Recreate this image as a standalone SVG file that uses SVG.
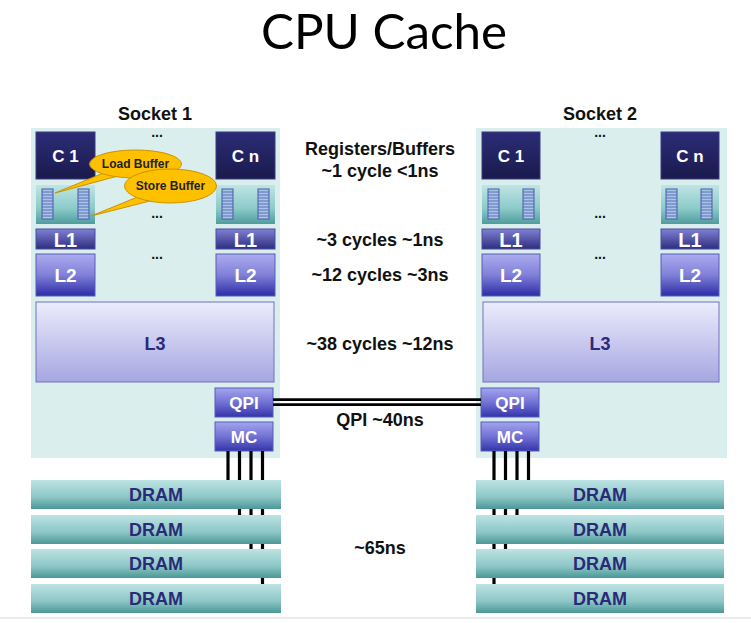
<svg xmlns="http://www.w3.org/2000/svg" xmlns:xlink="http://www.w3.org/1999/xlink" width="751" height="623" viewBox="0 0 751 623">
<defs>
<linearGradient id="gC" x1="0" y1="0" x2="0" y2="1"><stop offset="0" stop-color="#2c2c78"/><stop offset="1" stop-color="#1a1a4c"/></linearGradient>
<linearGradient id="gBuf" x1="0" y1="0" x2="0" y2="1"><stop offset="0" stop-color="#bfe5e5"/><stop offset="0.6" stop-color="#8ccaca"/><stop offset="1" stop-color="#4f9c9c"/></linearGradient>
<linearGradient id="gL1" x1="0" y1="0" x2="0" y2="1"><stop offset="0" stop-color="#8080d4"/><stop offset="1" stop-color="#2e2e7e"/></linearGradient>
<linearGradient id="gL2" x1="0" y1="0" x2="0" y2="1"><stop offset="0" stop-color="#acacf0"/><stop offset="0.5" stop-color="#8080d8"/><stop offset="1" stop-color="#2c2ca8"/></linearGradient>
<linearGradient id="gL3" x1="0" y1="0" x2="0" y2="1"><stop offset="0" stop-color="#ececfc"/><stop offset="1" stop-color="#a6a6e2"/></linearGradient>
<linearGradient id="gQ" x1="0" y1="0" x2="0" y2="1"><stop offset="0" stop-color="#a4a4ee"/><stop offset="0.5" stop-color="#7272d4"/><stop offset="1" stop-color="#3434ac"/></linearGradient>
<linearGradient id="gD" x1="0" y1="0" x2="0" y2="1"><stop offset="0" stop-color="#bde3e3"/><stop offset="0.6" stop-color="#8cc6c6"/><stop offset="1" stop-color="#4b9797"/></linearGradient>
<g id="stripe">
<rect x="0" y="0" width="11" height="30" fill="#a8c4e6" stroke="#4a5aa8" stroke-width="1"/>
<path d="M0 3H11M0 6H11M0 9H11M0 12H11M0 15H11M0 18H11M0 21H11M0 24H11M0 27H11" stroke="#4a5aa8" stroke-width="0.8"/>
</g>
</defs>
<style>
.bg{fill:#dbeeee}
.c{fill:url(#gC);stroke:#3a3a80;stroke-width:1}
.buf{fill:url(#gBuf)}
.l1{fill:url(#gL1);stroke:#4a4aa0;stroke-width:1}
.l2{fill:url(#gL2);stroke:#5a5ab8;stroke-width:1}
.l3{fill:url(#gL3);stroke:#7070c0;stroke-width:1}
.q{fill:url(#gQ);stroke:#5a5ab8;stroke-width:1}
.dram{fill:url(#gD)}
.wt{font-family:"Liberation Sans",Arial,sans-serif;font-weight:bold;fill:#ffffff;text-anchor:middle}
.lb{font-family:"Liberation Sans",Arial,sans-serif;font-weight:bold;fill:#111111;text-anchor:middle;font-size:18px}
.dt{font-family:"Liberation Sans",Arial,sans-serif;font-weight:bold;fill:#2a2a78;text-anchor:middle;font-size:18px}
.dots{font-family:"Liberation Sans",Arial,sans-serif;font-weight:bold;fill:#111111;text-anchor:middle;font-size:14px}
.wire{stroke:#000000;stroke-width:3.2}
.call{fill:#ffc000;stroke:#c89400;stroke-width:1}
.ct{font-family:"Liberation Sans",Arial,sans-serif;font-weight:bold;fill:#222222;text-anchor:middle;font-size:12px}
</style>
<rect width="751" height="623" fill="#ffffff"/>
<line x1="0" y1="618" x2="751" y2="618" stroke="#d8d8d8" stroke-width="1"/>
<text x="384" y="48.5" font-family="Lato,'Open Sans',sans-serif" font-size="48" fill="#000000" text-anchor="middle" textLength="246" lengthAdjust="spacingAndGlyphs">CPU Cache</text>

<g id="socket1">
<rect class="bg" x="31" y="128" width="249" height="330"/>
<text class="lb" x="155" y="120" font-size="16">Socket 1</text>
<text class="dots" x="157" y="137">...</text>
<text class="dots" x="157" y="218">...</text>
<text class="dots" x="157" y="259">...</text>
</g>
<g id="socket2">
<rect class="bg" x="476" y="128" width="251" height="330"/>
<text class="lb" x="600" y="120" font-size="16">Socket 2</text>
<text class="dots" x="600" y="137">...</text>
<text class="dots" x="600" y="218">...</text>
<text class="dots" x="600" y="259">...</text>
</g>

<g id="s1-c1"><rect class="c" x="36" y="132" width="59" height="47"/><text class="wt" x="65.5" y="162" font-size="17">C 1</text></g>
<g id="s1-cn"><rect class="c" x="216" y="132" width="59" height="47"/><text class="wt" x="245.5" y="162" font-size="17">C n</text></g>
<g id="s1-buf1"><rect class="buf" x="36" y="185" width="59" height="39"/><use xlink:href="#stripe" x="42" y="189"/><use xlink:href="#stripe" x="78" y="189"/></g>
<g id="s1-bufn"><rect class="buf" x="216" y="185" width="59" height="39"/><use xlink:href="#stripe" x="222" y="189"/><use xlink:href="#stripe" x="258" y="189"/></g>
<g id="s1-l1a"><rect class="l1" x="36" y="229" width="59" height="20"/><text class="wt" x="65.5" y="246.5" font-size="20">L1</text></g>
<g id="s1-l1n"><rect class="l1" x="216" y="229" width="59" height="20"/><text class="wt" x="245.5" y="246.5" font-size="20">L1</text></g>
<g id="s1-l2a"><rect class="l2" x="36" y="254" width="59" height="42"/><text class="wt" x="65.5" y="282" font-size="19">L2</text></g>
<g id="s1-l2n"><rect class="l2" x="216" y="254" width="59" height="42"/><text class="wt" x="245.5" y="282" font-size="19">L2</text></g>
<g id="s1-l3"><rect class="l3" x="36" y="302" width="238" height="80"/><text class="dt" x="155" y="350">L3</text></g>
<g id="s1-qpi"><rect class="q" x="215" y="388" width="58" height="29"/><text class="wt" x="244" y="409" font-size="17">QPI</text></g>
<g id="s1-mc"><rect class="q" x="215" y="422" width="58" height="29"/><text class="wt" x="244" y="443" font-size="17">MC</text></g>

<g id="s2-c1"><rect class="c" x="482" y="132" width="58" height="47"/><text class="wt" x="511" y="162" font-size="17">C 1</text></g>
<g id="s2-cn"><rect class="c" x="661" y="132" width="58" height="47"/><text class="wt" x="690" y="162" font-size="17">C n</text></g>
<g id="s2-buf1"><rect class="buf" x="482" y="185" width="58" height="39"/><use xlink:href="#stripe" x="488" y="189"/><use xlink:href="#stripe" x="523" y="189"/></g>
<g id="s2-bufn"><rect class="buf" x="661" y="185" width="58" height="39"/><use xlink:href="#stripe" x="666" y="189"/><use xlink:href="#stripe" x="701" y="189"/></g>
<g id="s2-l1a"><rect class="l1" x="482" y="229" width="58" height="20"/><text class="wt" x="511" y="246.5" font-size="20">L1</text></g>
<g id="s2-l1n"><rect class="l1" x="661" y="229" width="58" height="20"/><text class="wt" x="690" y="246.5" font-size="20">L1</text></g>
<g id="s2-l2a"><rect class="l2" x="482" y="254" width="58" height="42"/><text class="wt" x="511" y="282" font-size="19">L2</text></g>
<g id="s2-l2n"><rect class="l2" x="661" y="254" width="58" height="42"/><text class="wt" x="690" y="282" font-size="19">L2</text></g>
<g id="s2-l3"><rect class="l3" x="483" y="302" width="236" height="80"/><text class="dt" x="600" y="350">L3</text></g>
<g id="s2-qpi"><rect class="q" x="481" y="388" width="58" height="29"/><text class="wt" x="510" y="409" font-size="17">QPI</text></g>
<g id="s2-mc"><rect class="q" x="481" y="422" width="58" height="29"/><text class="wt" x="510" y="443" font-size="17">MC</text></g>

<g id="connectors">
<line x1="273" y1="399.7" x2="481" y2="399.7" stroke="#000" stroke-width="2.8"/>
<line x1="273" y1="404.7" x2="481" y2="404.7" stroke="#000" stroke-width="2.8"/>
<line class="wire" x1="228" y1="451" x2="228" y2="482"/>
<line class="wire" x1="239.5" y1="451" x2="239.5" y2="517"/>
<line class="wire" x1="251" y1="451" x2="251" y2="551"/>
<line class="wire" x1="262.5" y1="451" x2="262.5" y2="586"/>
<line class="wire" x1="494" y1="451" x2="494" y2="586"/>
<line class="wire" x1="505.5" y1="451" x2="505.5" y2="551"/>
<line class="wire" x1="517" y1="451" x2="517" y2="517"/>
<line class="wire" x1="528.5" y1="451" x2="528.5" y2="482"/>
</g>

<g id="s1-dram1"><rect class="dram" x="31" y="480" width="250" height="29"/><text class="dt" x="156" y="501">DRAM</text></g>
<g id="s1-dram2"><rect class="dram" x="31" y="515" width="250" height="29"/><text class="dt" x="156" y="536">DRAM</text></g>
<g id="s1-dram3"><rect class="dram" x="31" y="549" width="250" height="29"/><text class="dt" x="156" y="570">DRAM</text></g>
<g id="s1-dram4"><rect class="dram" x="31" y="584" width="250" height="29"/><text class="dt" x="156" y="605">DRAM</text></g>
<g id="s2-dram1"><rect class="dram" x="476" y="480" width="248" height="29"/><text class="dt" x="600" y="501">DRAM</text></g>
<g id="s2-dram2"><rect class="dram" x="476" y="515" width="248" height="29"/><text class="dt" x="600" y="536">DRAM</text></g>
<g id="s2-dram3"><rect class="dram" x="476" y="549" width="248" height="29"/><text class="dt" x="600" y="570">DRAM</text></g>
<g id="s2-dram4"><rect class="dram" x="476" y="584" width="248" height="29"/><text class="dt" x="600" y="605">DRAM</text></g>

<g id="labels">
<text class="lb" x="380" y="155">Registers/Buffers</text>
<text class="lb" x="380" y="177">~1 cycle &lt;1ns</text>
<text class="lb" x="380" y="246">~3 cycles ~1ns</text>
<text class="lb" x="380" y="281">~12 cycles ~3ns</text>
<text class="lb" x="380" y="350">~38 cycles ~12ns</text>
<text class="lb" x="380" y="426">QPI ~40ns</text>
<text class="lb" x="380" y="554">~65ns</text>
</g>

<g id="callout-load">
<path class="call" d="M106 172 L55 193 L118 176 Z"/>
<ellipse class="call" cx="135.5" cy="164" rx="46" ry="14"/>
<path d="M107 171.5 L117 175" stroke="#ffc000" stroke-width="2.5"/>
<text class="ct" x="135.5" y="168">Load Buffer</text>
</g>
<g id="callout-store">
<path class="call" d="M140 196 L91 216 L154 200 Z"/>
<ellipse class="call" cx="170.5" cy="186" rx="46" ry="17"/>
<path d="M141 195.5 L153 199.5" stroke="#ffc000" stroke-width="2.5"/>
<text class="ct" x="170.5" y="190">Store Buffer</text>
</g>
</svg>
